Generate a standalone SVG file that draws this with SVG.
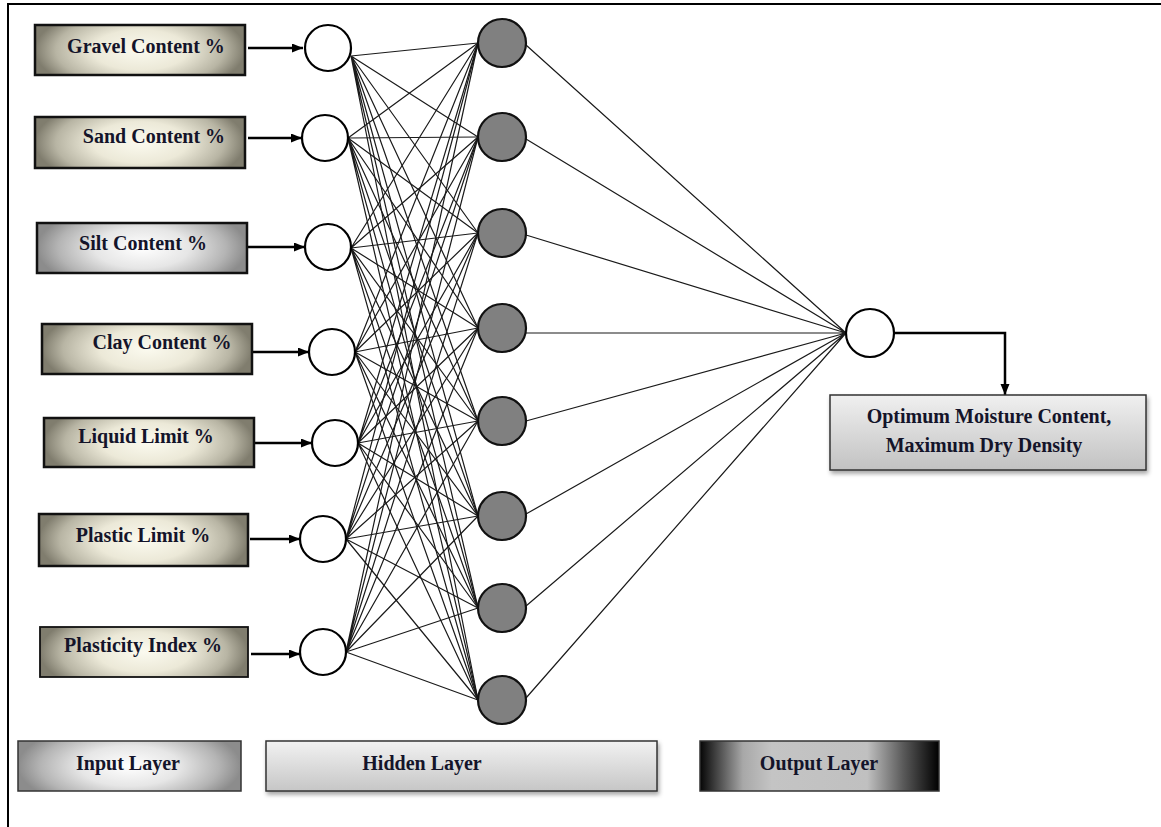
<svg xmlns="http://www.w3.org/2000/svg" width="1161" height="827" viewBox="0 0 1161 827">
<defs>
<radialGradient id="gKhaki" cx="0.5" cy="0.5" r="0.5" gradientTransform="translate(0.5,0.5) scale(1,1.8) translate(-0.5,-0.5)">
<stop offset="0" stop-color="#fbfaef"/><stop offset="0.45" stop-color="#ece9d8"/><stop offset="0.8" stop-color="#b8b5a4"/><stop offset="1" stop-color="#807d6e"/>
</radialGradient>
<radialGradient id="gGray" cx="0.5" cy="0.5" r="0.5" gradientTransform="translate(0.5,0.5) scale(1,1.8) translate(-0.5,-0.5)">
<stop offset="0" stop-color="#ffffff"/><stop offset="0.45" stop-color="#e6e6e6"/><stop offset="0.8" stop-color="#b4b4b4"/><stop offset="1" stop-color="#8c8c8c"/>
</radialGradient>
<linearGradient id="gHidden" x1="0" y1="0" x2="0" y2="1">
<stop offset="0" stop-color="#f2f2f2"/><stop offset="1" stop-color="#c6c6c6"/>
</linearGradient>
<linearGradient id="gOutLayer" x1="0" y1="0" x2="1" y2="0">
<stop offset="0" stop-color="#050505"/><stop offset="0.18" stop-color="#a8a8a8"/><stop offset="0.3" stop-color="#c4c4c4"/><stop offset="0.7" stop-color="#c0c0c0"/><stop offset="0.85" stop-color="#5a5a5a"/><stop offset="1" stop-color="#000000"/>
</linearGradient>
<linearGradient id="gOutBox" x1="0" y1="0" x2="0" y2="1">
<stop offset="0" stop-color="#f0f0f0"/><stop offset="1" stop-color="#c2c2c2"/>
</linearGradient>
<filter id="shadow" x="-5%" y="-10%" width="110%" height="130%">
<feDropShadow dx="1.5" dy="3" stdDeviation="2" flood-color="#000" flood-opacity="0.35"/>
</filter>
<marker id="arr" markerUnits="userSpaceOnUse" markerWidth="12" markerHeight="10" refX="11" refY="4.5" orient="auto">
<path d="M0,0 L11,4.5 L0,9 z" fill="#000"/>
</marker>
</defs>
<style>
.txt{font-family:"Liberation Serif","Times New Roman",serif;font-weight:bold;font-size:20px;fill:#14142a;text-anchor:middle}
.inbox{fill:url(#gKhaki);stroke:#111;stroke-width:2.5}
.incirc{fill:#fff;stroke:#000;stroke-width:2.2}
.hidcirc{fill:#808080;stroke:#111;stroke-width:2.2}
.arrow{stroke:#000;stroke-width:2.5;fill:none;marker-end:url(#arr)}
.conn{stroke:#1a1a1a;stroke-width:1.2;fill:none}
.legend{stroke:#333;stroke-width:1.5}
</style>
<rect width="1161" height="827" fill="#fff"/>
<path d="M8,827 V4 H1161" fill="none" stroke="#000" stroke-width="2"/>

<g id="connectors">
<path class="conn" d="M351 56L478 43M351 56L478 137M351 56L478 233M351 56L478 328M351 56L478 421M351 56L478 516M351 56L478 608M351 56L478 700"/>
<path class="conn" d="M348 138L478 43M348 138L478 137M348 138L478 233M348 138L478 328M348 138L478 421M348 138L478 516M348 138L478 608M348 138L478 700"/>
<path class="conn" d="M351 248L478 43M351 248L478 137M351 248L478 233M351 248L478 328M351 248L478 421M351 248L478 516M351 248L478 608M351 248L478 700"/>
<path class="conn" d="M355 352L478 43M355 352L478 137M355 352L478 233M355 352L478 328M355 352L478 421M355 352L478 516M355 352L478 608M355 352L478 700"/>
<path class="conn" d="M358 443L478 43M358 443L478 137M358 443L478 233M358 443L478 328M358 443L478 421M358 443L478 516M358 443L478 608M358 443L478 700"/>
<path class="conn" d="M346 539L478 43M346 539L478 137M346 539L478 233M346 539L478 328M346 539L478 421M346 539L478 516M346 539L478 608M346 539L478 700"/>
<path class="conn" d="M346 652L478 43M346 652L478 137M346 652L478 233M346 652L478 328M346 652L478 421M346 652L478 516M346 652L478 608M346 652L478 700"/>
<path class="conn" d="M526 45L846 333M526 139L846 333M526 235L846 333M526 333L846 333M526 421L846 333M526 514L846 333M526 606L846 333M526 698L846 333"/>
<path class="arrow" d="M248 48H303"/>
<path class="arrow" d="M248 138H302"/>
<path class="arrow" d="M243 247H305"/>
<path class="arrow" d="M248 352H309"/>
<path class="arrow" d="M255 443H312"/>
<path class="arrow" d="M250 539H300"/>
<path class="arrow" d="M251 654H300"/>
<path class="arrow" d="M895 333H1005V395"/>
</g>

<g id="in-gravel"><rect class="inbox" x="35" y="25" width="210" height="50"/><text class="txt" x="146" y="53">Gravel Content %</text></g>
<g id="in-sand"><rect class="inbox" x="35" y="117" width="210" height="51"/><text class="txt" x="154" y="143">Sand Content %</text></g>
<g id="in-silt"><rect class="inbox" x="37" y="223" width="210" height="50" style="fill:url(#gGray)"/><text class="txt" x="143" y="250">Silt Content %</text></g>
<g id="in-clay"><rect class="inbox" x="42" y="324" width="210" height="50"/><text class="txt" x="162" y="349">Clay Content %</text></g>
<g id="in-liquid"><rect class="inbox" x="44" y="418" width="210" height="49"/><text class="txt" x="146" y="443">Liquid Limit %</text></g>
<g id="in-plastic"><rect class="inbox" x="39" y="514" width="209" height="52"/><text class="txt" x="143" y="542">Plastic Limit %</text></g>
<g id="in-pi"><rect class="inbox" x="40" y="627" width="208" height="50" style="stroke-width:1.8"/><text class="txt" x="143" y="652">Plasticity Index %</text></g>

<g id="i1"><circle class="incirc" cx="328" cy="48" r="23"/></g>
<g id="i2"><circle class="incirc" cx="325" cy="138" r="23"/></g>
<g id="i3"><circle class="incirc" cx="328" cy="247" r="23"/></g>
<g id="i4"><circle class="incirc" cx="332" cy="352" r="23"/></g>
<g id="i5"><circle class="incirc" cx="335" cy="443" r="23"/></g>
<g id="i6"><circle class="incirc" cx="323" cy="539" r="23"/></g>
<g id="i7"><circle class="incirc" cx="323" cy="652" r="23"/></g>

<g id="h1"><circle class="hidcirc" cx="502" cy="43" r="24"/></g>
<g id="h2"><circle class="hidcirc" cx="502" cy="137" r="24"/></g>
<g id="h3"><circle class="hidcirc" cx="502" cy="233" r="24"/></g>
<g id="h4"><circle class="hidcirc" cx="502" cy="328" r="24"/></g>
<g id="h5"><circle class="hidcirc" cx="502" cy="421" r="24"/></g>
<g id="h6"><circle class="hidcirc" cx="502" cy="516" r="24"/></g>
<g id="h7"><circle class="hidcirc" cx="502" cy="608" r="24"/></g>
<g id="h8"><circle class="hidcirc" cx="502" cy="700" r="24"/></g>

<g id="o1"><circle class="incirc" cx="870" cy="333" r="24"/></g>

<g id="out-box"><rect x="830" y="395" width="316" height="75" fill="url(#gOutBox)" stroke="#333" stroke-width="1.5" filter="url(#shadow)"/>
<text class="txt" x="989" y="423">Optimum Moisture Content,</text>
<text class="txt" x="984" y="452">Maximum Dry Density</text></g>

<g id="legend-input"><rect class="legend" x="18" y="741" width="223" height="50" fill="url(#gGray)"/><text class="txt" x="128" y="770">Input Layer</text></g>
<g id="legend-hidden"><rect class="legend" x="266" y="741" width="391" height="50" fill="url(#gHidden)" filter="url(#shadow)"/><text class="txt" x="422" y="770">Hidden Layer</text></g>
<g id="legend-output"><rect class="legend" x="700" y="741" width="239" height="50" fill="url(#gOutLayer)"/><text class="txt" x="819" y="770">Output Layer</text></g>
</svg>
